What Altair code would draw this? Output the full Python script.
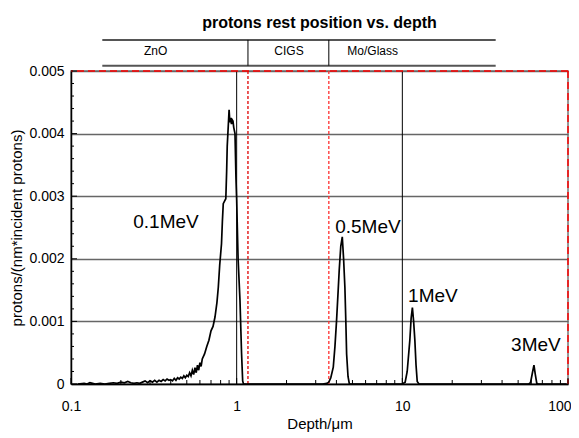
import altair as alt
import pandas as pd

# ---- data ----
depth_01 = [0.11, 0.12, 0.125, 0.13, 0.135, 0.14, 0.15, 0.16, 0.17, 0.18, 0.19, 0.20, 0.21, 0.22,
            0.23, 0.24, 0.25, 0.26, 0.27, 0.28, 0.29, 0.30, 0.31, 0.32, 0.33, 0.34, 0.35, 0.36,
            0.37, 0.38, 0.39, 0.40, 0.41, 0.42, 0.43, 0.44, 0.45, 0.46, 0.47, 0.48, 0.49, 0.50,
            0.51, 0.52, 0.53, 0.54, 0.55, 0.56, 0.57, 0.58, 0.59, 0.60, 0.61, 0.62, 0.64, 0.66,
            0.68, 0.70, 0.72, 0.74, 0.76, 0.775, 0.79, 0.81, 0.82, 0.83, 0.845, 0.86, 0.87, 0.877,
            0.885, 0.893, 0.90, 0.91, 0.92, 0.93, 0.94, 0.95, 0.96, 0.977, 0.99, 1.0, 1.02, 1.047,
            1.07, 1.087, 1.10, 1.15]
val_01 = [0.0, 0.00001, 0.0, 0.00002, 0.00001, 0.0, 0.00001, 0.0, 0.00001, 0.00002, 0.00001, 0.00003,
          0.00002, 0.00004, 0.00002, 0.00001, 0.00002, 0.00001, 0.00003, 0.00005, 0.00002, 0.00005,
          0.00003, 0.00006, 0.00003, 0.00006, 0.00004, 0.00007, 0.00005, 0.00008, 0.00006, 0.00007,
          0.00005, 0.00009, 0.00006, 0.0001, 0.00008, 0.00011, 0.00009, 0.00013, 0.0001, 0.00014,
          0.00012, 0.00018, 0.00013, 0.00022, 0.00015, 0.00026, 0.00018, 0.0003, 0.00022, 0.00034,
          0.00028, 0.0004, 0.00048, 0.0006, 0.0007, 0.00085, 0.00092, 0.00107, 0.0013, 0.00155,
          0.0019, 0.00224, 0.0026, 0.00288, 0.00292, 0.00296, 0.0034, 0.0038, 0.0040, 0.0042,
          0.00438, 0.00418, 0.00425, 0.00415, 0.00422, 0.0042, 0.0041, 0.0040, 0.0033, 0.00294,
          0.0020, 0.00134, 0.0005, 0.00005, 0.0, 0.0]

depth_05 = [1.15, 3.3, 3.5, 3.6, 3.7, 3.83, 3.92, 4.01, 4.1, 4.16, 4.25, 4.34, 4.42, 4.5, 4.56,
            4.61, 4.7, 4.79, 8.0]
val_05 = [0.0, 0.0, 0.00001, 0.00003, 0.0001, 0.00027, 0.0006, 0.00102, 0.0015, 0.00182, 0.0022,
          0.00235, 0.002, 0.00155, 0.001, 0.00048, 0.00012, 0.0, 0.0]

depth_1 = [8.0, 10.0, 10.4, 10.7, 11.1, 11.3, 11.5, 11.7, 11.9, 12.1, 12.3, 12.6, 30.0]
val_1 = [0.0, 0.0, 0.00003, 0.0002, 0.0007, 0.00105, 0.00122, 0.001, 0.0007, 0.0003, 0.00004, 0.0, 0.0]

depth_3 = [30.0, 58.0, 59.4, 61.0, 62.3, 63.5, 64.8, 66.0, 98.0]
val_3 = [0.0, 0.0, 0.00002, 0.00018, 0.0003, 0.00015, 0.00001, 0.0, 0.0]

energy_labels = ["0.1MeV", "0.5MeV", "1MeV", "3MeV"]
label_depth = [0.3745, 6.2, 15.3, 64.0]
label_value = [0.00258, 0.00251, 0.0014, 0.000624]

layer_names = ["ZnO", "CIGS", "Mo/Glass"]
layer_text_depth = [0.324, 2.07, 6.62]
layer_bounds = [1.17, 3.6]
band_extent = [0.1545, 36.6]
band_values = [0.005085, 0.005496]
band_text_value = 0.005325

x_major = [0.1, 1, 10, 100]
x_minor = [0.2, 0.3, 0.4, 0.5, 0.6, 0.7, 0.8, 0.9, 2, 3, 4, 5, 6, 7, 8, 9,
           20, 30, 40, 50, 60, 70, 80, 90]
y_major = [0, 0.001, 0.002, 0.003, 0.004, 0.005]
y_minor = [0.0002, 0.0004, 0.0006, 0.0008, 0.0012, 0.0014, 0.0016, 0.0018,
           0.0022, 0.0024, 0.0026, 0.0028, 0.0032, 0.0034, 0.0036, 0.0038,
           0.0042, 0.0044, 0.0046, 0.0048]
x_black_lines = [1, 10]

# ---- tables ----
rows = []
for name, ds, vs in [("0.1MeV", depth_01, val_01), ("0.5MeV", depth_05, val_05),
                     ("1MeV", depth_1, val_1), ("3MeV", depth_3, val_3)]:
    rows += [{"series": name, "depth": d, "value": v} for d, v in zip(ds, vs)]
df = pd.DataFrame(rows)

W, H = 497, 313
FONT = "Liberation Sans"
xs = alt.Scale(type="log", domain=[0.1, 100], nice=False)
ys = alt.Scale(domain=[0, 0.005], nice=False, zero=False)

XQ = lambda f: alt.X(f, type="quantitative", scale=xs)
YQ = lambda f: alt.Y(f, type="quantitative", scale=ys)

base_axes = alt.Chart(df).mark_line(strokeOpacity=0).encode(
    x=alt.X("depth:Q", scale=xs, axis=alt.Axis(values=x_major, format="~g", title="Depth/μm",
            grid=False, ticks=False, tickSize=0, labelPadding=15, domainColor="black",
            domainWidth=1.5, labelFontSize=14, titleFontSize=15, titleFontWeight="normal",
            labelFont=FONT, titleFont=FONT, labelColor="black", titleColor="black",
            titlePadding=3, labelFlush=False,
            labelAlign={"condition": {"test": "datum.value == 100", "value": "right"},
                        "value": "center"},
            labelOffset={"condition": {"test": "datum.value == 100", "value": 3},
                         "value": 0})),
    y=alt.Y("value:Q", scale=ys, axis=alt.Axis(values=y_major, format="~g",
            title="protons/(nm*incident protons)", grid=True, gridColor="#666", gridWidth=1.4,
            ticks=False, tickSize=0, labelPadding=7, domainColor="black", domainWidth=1.5,
            labelFontSize=14, titleFontSize=15, titleFontWeight="normal", labelFont=FONT,
            titleFont=FONT, labelColor="black", titleColor="black", titlePadding=4,
            labelFlush=False)),
)

vlines = alt.Chart(pd.DataFrame({"depth": x_black_lines})).mark_rule(color="black", strokeWidth=1).encode(
    x=XQ("depth"))

red_lines = alt.Chart(pd.DataFrame({"depth": layer_bounds, "c": ["#e00000", "#ff3030"]})).mark_rule(
    strokeDash=[3, 2], strokeWidth=1.3).encode(
    x=XQ("depth"), color=alt.Color("c:N", scale=None))

border_top = alt.Chart(pd.DataFrame({"value": [0.005]})).mark_rule(
    color="red", strokeDash=[7, 4], strokeWidth=1.5).encode(y=YQ("value"))
border_right = alt.Chart(pd.DataFrame({"depth": [100]})).mark_rule(
    color="red", strokeDash=[7, 4], strokeWidth=1.5).encode(x=XQ("depth"))

lines = alt.Chart(df).mark_line(color="black", strokeWidth=1.7, clip=True).encode(
    x=XQ("depth"), y=YQ("value"), detail="series:N")

# inward ticks
ytick_major = alt.Chart(pd.DataFrame({"value": y_major})).mark_rule(color="black").encode(
    y=YQ("value"), x=alt.value(0), x2=alt.value(6))
ytick_minor = alt.Chart(pd.DataFrame({"value": y_minor})).mark_rule(color="black").encode(
    y=YQ("value"), x=alt.value(0), x2=alt.value(3))
xtick_major = alt.Chart(pd.DataFrame({"depth": x_major})).mark_rule(color="black").encode(
    x=XQ("depth"), y=alt.value(H), y2=alt.value(H - 6))
xtick_minor = alt.Chart(pd.DataFrame({"depth": x_minor})).mark_rule(color="black").encode(
    x=XQ("depth"), y=alt.value(H), y2=alt.value(H - 4))

labels = alt.Chart(pd.DataFrame({"t": energy_labels, "depth": label_depth, "value": label_value})).mark_text(
    font=FONT, fontSize=19, color="black", align="center", baseline="middle").encode(
    x=XQ("depth"), y=YQ("value"), text="t:N")

# layer band above the plot
band_h = alt.Chart(pd.DataFrame({"value": band_values, "depth": [band_extent[0]] * 2,
                                 "b": [band_extent[1]] * 2})).mark_rule(
    color="#555", strokeWidth=2).encode(y=YQ("value"), x=XQ("depth"), x2="b:Q")
band_v = alt.Chart(pd.DataFrame({"depth": layer_bounds, "value": [band_values[0]] * 2,
                                 "hi": [band_values[1]] * 2})).mark_rule(
    color="black", strokeWidth=1).encode(x=XQ("depth"), y=YQ("value"), y2="hi:Q")
band_t = alt.Chart(pd.DataFrame({"t": layer_names, "depth": layer_text_depth,
                                 "value": [band_text_value] * 3})).mark_text(
    font=FONT, fontSize=12, color="black", align="center", baseline="middle").encode(
    x=XQ("depth"), y=YQ("value"), text="t:N")

chart = alt.layer(
    base_axes, vlines, red_lines, border_top, border_right, lines,
    ytick_major, ytick_minor, xtick_major, xtick_minor, labels, band_h, band_v, band_t
).properties(
    width=W, height=H,
    title=alt.Title("protons rest position vs. depth", font=FONT, fontSize=16, fontWeight="bold",
                    color="black", anchor="middle", offset=8),
    autosize=alt.AutoSizeParams(type="none"),
    padding={"left": 63, "top": 63, "right": 3, "bottom": 50},
).configure_view(stroke="#777", strokeWidth=1.5)

chart.save("out.html", embed_options={"renderer": "svg", "actions": False})
